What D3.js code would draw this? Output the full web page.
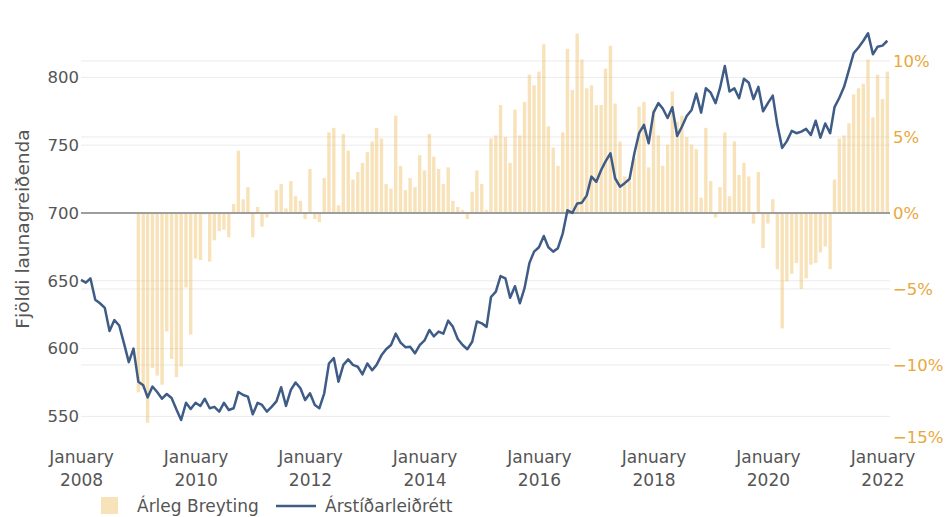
<!DOCTYPE html>
<html lang="is">
<head>
<meta charset="utf-8">
<title>Fjöldi launagreiðenda</title>
<script src="https://d3js.org/d3.v7.min.js"></script>
<style>
  body { margin: 0; background: #fff; }
  svg text { font-family: "DejaVu Sans", Verdana, sans-serif; }
</style>
</head>
<body>
<svg id="chart" width="945" height="517"></svg>
<script>
// monthly series, first value = first month
const lineStart = new Date(2008, 0, 1);
const barStart = new Date(2009, 0, 1);

// Árstíðarleiðrétt
const lineValues = [
  650.6, 648.6, 651.8, 636.0, 633.4, 630.0, 613.0, 621.0, 617.0, 604.0, 590.0, 600.0,
  575.6, 573.0, 564.0, 572.0, 568.0, 563.0, 566.5, 563.5, 555.0, 547.3, 560.0, 555.5,
  560.0, 557.7, 563.0, 556.0, 557.0, 553.5, 560.0, 554.7, 556.0, 568.0, 565.8, 564.6,
  551.5, 560.0, 558.4, 553.5, 557.0, 561.0, 571.5, 557.7, 569.5, 575.0, 570.7, 562.0,
  567.0, 558.4, 556.0, 567.0, 589.0, 593.0, 575.6, 588.0, 592.0, 588.0, 586.6, 581.0,
  589.0, 584.0, 588.0, 595.0, 599.5, 602.6, 611.0, 604.4, 601.0, 601.4, 596.5, 602.6,
  606.0, 613.7, 609.0, 612.5, 611.0, 620.6, 616.0, 607.0, 602.6, 599.5, 605.0, 620.0,
  618.6, 616.0, 638.0, 642.0, 653.5, 651.8, 637.5, 646.0, 633.4, 644.5, 663.0, 671.5,
  674.7, 683.0, 674.7, 671.5, 674.0, 685.0, 702.0, 700.0, 707.0, 707.6, 713.0, 726.8,
  723.0, 731.7, 738.0, 744.0, 725.6, 719.4, 722.0, 725.0, 744.0, 758.8, 765.0, 751.4,
  774.0, 781.0, 777.0, 770.0, 778.0, 756.8, 763.6, 771.5, 776.0, 788.0, 774.0, 792.0,
  788.7, 781.0, 792.0, 808.4, 789.5, 792.0, 784.6, 799.0, 796.0, 784.0, 793.0, 775.0,
  781.0, 786.5, 765.0, 748.0, 753.0, 760.5, 758.8, 760.0, 762.0, 757.5, 768.0, 755.5,
  766.0, 758.8, 778.0, 785.0, 793.0, 805.5, 817.8, 822.0, 827.0, 832.5, 817.0, 822.6,
  823.4, 827.0
];

// Árleg Breyting (%)
const barValues = [
  -11.8, -11.6, -13.8, -10.2, -10.7, -11.3, -7.8, -9.6, -10.8, -10.1, -4.9, -8.0,
  -3.0, -3.1, -0.1, -3.2, -1.8, -1.2, -1.1, -1.6, 0.6, 4.1, 0.9, 1.7,
  -1.6, 0.4, -0.9, -0.3, 0.1, 1.5, 1.9, 0.3, 2.1, 1.1, 0.8, -0.4,
  2.9, -0.4, -0.6, 2.3, 5.3, 5.6, 0.5, 5.2, 4.1, 2.2, 2.7, 3.3,
  4.0, 4.7, 5.6, 4.9, 1.9, 1.6, 6.4, 3.1, 1.5, 2.3, 1.7, 3.8,
  2.8, 5.2, 3.7, 2.9, 1.9, 3.0, 0.8, 0.4, 0.2, -0.4, 1.4, 2.8,
  1.9, 0.2, 4.9, 5.1, 7.1, 5.0, 3.3, 6.8, 5.1, 7.3, 9.1, 8.4,
  9.3, 11.1, 5.7, 4.3, 3.1, 5.3, 10.8, 8.1, 11.8, 10.1, 8.2, 8.4,
  7.1, 7.1, 9.5, 11.0, 7.2, 4.7, 2.4, 2.1, 3.6, 7.0, 7.3, 3.0,
  6.8, 5.1, 3.1, 4.5, 8.0, 6.0, 6.4, 5.0, 4.5, 4.2, 1.0, 5.6,
  2.1, -0.3, 1.7, 5.3, 1.1, 4.7, 2.5, 3.3, 2.4, -0.7, 2.7, -2.3,
  -0.7, 0.9, -3.7, -7.6, -4.5, -4.0, -3.3, -5.0, -4.3, -3.4, -3.3, -2.6,
  -2.2, -3.7, 2.2, 4.9, 5.1, 5.9, 7.8, 8.2, 8.5, 10.1, 6.3, 9.1,
  7.5, 9.3
];

const leftTicks = [550, 600, 650, 700, 750, 800];
const rightTicks = [-15, -10, -5, 0, 5, 10];
const xTickYears = [2008, 2010, 2012, 2014, 2016, 2018, 2020, 2022];
const xTickMonth = "January";
const yTitle = "Fjöldi launagreiðenda";
const seriesNames = ["Árleg Breyting", "Árstíðarleiðrétt"];

const barColor = "rgba(240, 190, 100, 0.45)";
const lineColor = "#3e5c85";
const rightColor = "#e9a83c";
const textColor = "#555";

const plot = { left: 81, right: 890, top: 28, bottom: 442 };

const svg = d3.select("#chart");

const x = d3.scaleTime()
  .domain([new Date(2008, 0, 1), new Date(2022, 1, 18)])
  .range([plot.left, plot.right]);

const yLeft = d3.scaleLinear()
  .domain([531.1, 836.4])
  .range([plot.bottom, plot.top]);

const yRight = d3.scaleLinear()
  .domain([-15.07, 12.17])
  .range([plot.bottom, plot.top]);

const lineData = lineValues.map((v, i) => ({ date: d3.timeMonth.offset(lineStart, i), value: v }));
const barData = barValues.map((v, i) => ({ date: d3.timeMonth.offset(barStart, i), value: v }));

// gridlines, both axes
const grid = svg.append("g");
grid.selectAll("line.gl")
  .data(leftTicks.filter(d => d !== 700))
  .join("line")
  .attr("x1", plot.left).attr("x2", plot.right)
  .attr("y1", d => yLeft(d)).attr("y2", d => yLeft(d))
  .attr("stroke", "#ebebeb").attr("stroke-width", 1);
grid.selectAll("line.gr")
  .data(rightTicks.filter(d => d !== 0 && d !== -15))
  .join("line")
  .attr("x1", plot.left).attr("x2", plot.right)
  .attr("y1", d => yRight(d)).attr("y2", d => yRight(d))
  .attr("stroke", "#ebebeb").attr("stroke-width", 1);

// bars
const barW = 3.4;
svg.append("g")
  .selectAll("rect")
  .data(barData)
  .join("rect")
  .attr("x", d => x(d.date) - barW / 2)
  .attr("width", barW)
  .attr("y", d => yRight(Math.max(0, d.value)))
  .attr("height", d => Math.abs(yRight(d.value) - yRight(0)))
  .attr("fill", barColor);

// zero line
svg.append("line")
  .attr("x1", plot.left).attr("x2", plot.right)
  .attr("y1", yRight(0)).attr("y2", yRight(0))
  .attr("stroke", "#9e9e9e").attr("stroke-width", 2);

// line
svg.append("path")
  .datum(lineData)
  .attr("fill", "none")
  .attr("stroke", lineColor)
  .attr("stroke-width", 2.5)
  .attr("stroke-linejoin", "round")
  .attr("d", d3.line().x(d => x(d.date)).y(d => yLeft(d.value)));

// left axis
const gLeft = svg.append("g")
  .attr("transform", `translate(${plot.left - 2},0)`)
  .call(d3.axisLeft(yLeft).tickValues(leftTicks).tickSize(0).tickPadding(0));
gLeft.select(".domain").remove();
gLeft.selectAll("text")
  .attr("fill", textColor)
  .style("font-size", "16.5px");

// right axis
const gRight = svg.append("g")
  .attr("transform", `translate(${plot.right + 3},0)`)
  .call(d3.axisRight(yRight).tickValues(rightTicks).tickSize(0).tickPadding(0)
    .tickFormat(d => (d < 0 ? "\u2212" + Math.abs(d) : d) + "%"));
gRight.select(".domain").remove();
gRight.selectAll("text")
  .attr("fill", rightColor)
  .style("font-size", "16.5px");
// the bottom label sits on the plot edge; nudge it up so it clears the date label
gRight.selectAll(".tick").filter(d => d === -15).select("text").attr("dy", "0.1em");

// bottom axis, two-line labels
const gBottom = svg.append("g")
  .attr("transform", `translate(0,${plot.bottom})`)
  .call(d3.axisBottom(x).tickValues(xTickYears.map(yr => new Date(yr, 0, 1))).tickSize(0).tickFormat(""));
gBottom.select(".domain").remove();
gBottom.selectAll(".tick text").remove();
gBottom.selectAll(".tick").each(function(d) {
  const t = d3.select(this).append("text")
    .attr("text-anchor", "middle")
    .attr("fill", textColor)
    .style("font-size", "17px");
  t.append("tspan").attr("x", 0).attr("y", 21).text(xTickMonth);
  t.append("tspan").attr("x", 0).attr("y", 44).text(d.getFullYear());
});

// y title
svg.append("text")
  .attr("transform", `translate(29,${(plot.top + plot.bottom) / 2 - 6}) rotate(-90)`)
  .attr("text-anchor", "middle")
  .attr("fill", textColor)
  .style("font-size", "18.5px")
  .text(yTitle);

// legend
const legend = svg.append("g");
legend.append("rect")
  .attr("x", 101).attr("y", 497).attr("width", 17).attr("height", 17)
  .attr("fill", barColor);
legend.append("text")
  .attr("x", 137).attr("y", 512)
  .attr("fill", textColor)
  .style("font-size", "17px")
  .text(seriesNames[0]);
legend.append("line")
  .attr("x1", 276).attr("x2", 316).attr("y1", 506).attr("y2", 506)
  .attr("stroke", lineColor).attr("stroke-width", 2.5);
legend.append("text")
  .attr("x", 325).attr("y", 512)
  .attr("fill", textColor)
  .style("font-size", "17px")
  .text(seriesNames[1]);
</script>
</body>
</html>
